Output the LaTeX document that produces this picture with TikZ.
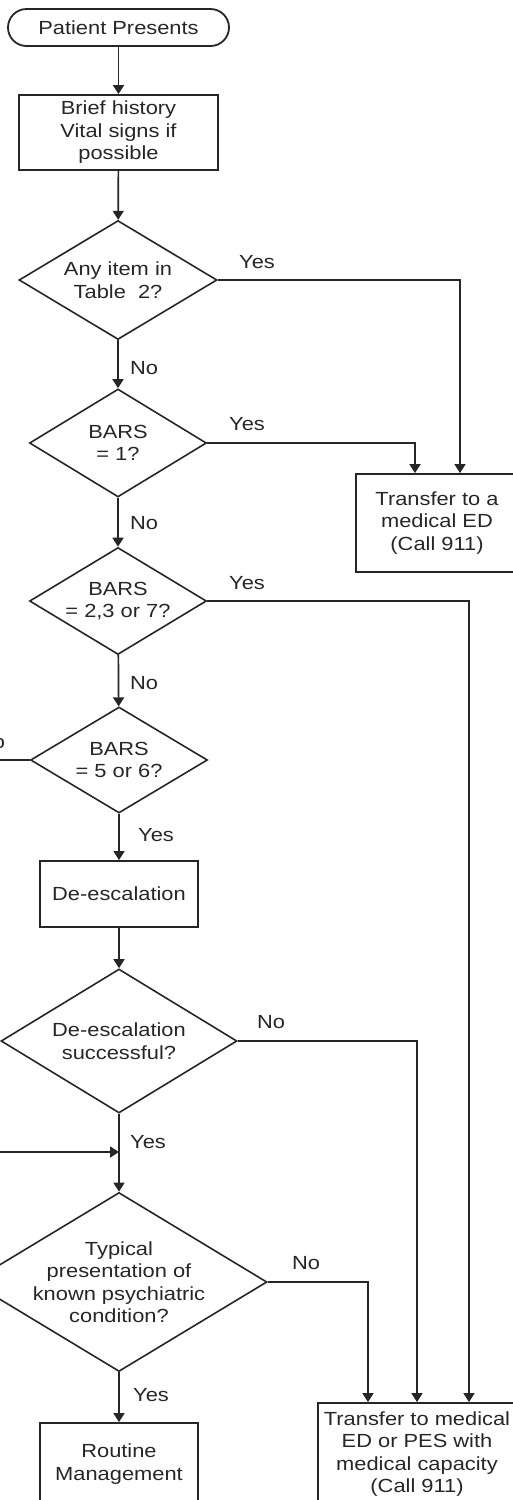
\documentclass[tikz,border=0pt]{standalone}
\usepackage{fontspec}
\setmainfont{Liberation Sans}[FakeStretch=1.15]
\usetikzlibrary{shapes.geometric,arrows.meta,calc}
\definecolor{ink}{gray}{0.15}
\begin{document}
\begin{tikzpicture}[x=1pt,y=-1pt,
  every node/.style={font=\fontsize{19}{22.5}\selectfont, text=ink},
  procbox/.style={draw=ink, line width=1.8pt, align=center, inner sep=0pt},
  terminal/.style={procbox, rounded corners=18.5pt},
  decision/.style={draw=ink, line width=1.6pt, diamond, inner sep=0pt},
  flow/.style={draw=ink, line width=1.7pt, -{Triangle[width=11pt,length=9pt]}},
  tag/.style={inner sep=0pt},
]
\useasboundingbox (0,0) rectangle (512,1500);

% process boxes
\node[terminal, minimum width=221, minimum height=37] (start) at (118.5,27.5) {Patient Presents};
\node[procbox, minimum width=199, minimum height=75] (hist) at (118.5,132.5) {Brief history\\Vital signs if\\possible};
\node[procbox, minimum width=158, minimum height=66] (deesc) at (119,894) {De-escalation};
\node[procbox, minimum width=158, minimum height=82] (routine) at (119,1464) {Routine\\Management};
\node[procbox, minimum width=162, minimum height=98] (xfer1) at (437,523) {Transfer to a\\medical ED\\(Call 911)};
\node[procbox, minimum width=198, minimum height=102] (xfer2) at (417,1454) {Transfer to medical\\ED or PES with\\medical capacity\\(Call 911)};

% decisions
\node[decision, minimum width=198, minimum height=119,
  label={[align=center]center:Any item in\\Table~~2?}] (d1) at (118,280) {};
\node[decision, minimum width=177, minimum height=108,
  label={[align=center]center:BARS\\= 1?}] (d2) at (118,443) {};
\node[decision, minimum width=177, minimum height=107,
  label={[align=center]center:BARS\\= 2,3 or 7?}] (d3) at (118,601) {};
\node[decision, minimum width=177, minimum height=106,
  label={[align=center]center:BARS\\= 5 or 6?}] (d4) at (119,760) {};
\node[decision, minimum width=236, minimum height=144,
  label={[align=center]center:De-escalation\\successful?}] (d5) at (119,1041) {};
\node[decision, minimum width=296, minimum height=179,
  label={[align=center]center:Typical\\presentation of\\known psychiatric\\condition?}] (d6) at (119,1282) {};

% main column
\coordinate (join) at (119,1152);
\coordinate (loopx) at (-22,0);
\draw[flow] (start) -- (hist);
\draw[flow] (hist) -- (d1);
\draw[flow] (d1) -- (d2);
\draw[flow] (d2) -- (d3);
\draw[flow] (d3) -- (d4);
\draw[flow] (d4) -- (deesc);
\draw[flow] (deesc) -- (d5);
\draw[flow] (d5) -- (d6);
\draw[flow] (d6) -- (routine);

% branches to the right
\draw[flow] (d1.east) -| ([xshift=23pt]xfer1.north);
\draw[flow] (d2.east) -| ([xshift=-22pt]xfer1.north);
\draw[flow] (d3.east) -| ([xshift=52pt]xfer2.north);
\draw[flow] (d5.east) -| (xfer2.north);
\draw[flow] (d6.east) -| ([xshift=-49pt]xfer2.north);

% loop on the left
\draw[flow] (d4.west) -- (d4.west -| loopx) |- (join);

% branch labels
\node[tag, anchor=west] (n1) at (130,368) {No};
\node[tag, anchor=west] (n2) at (130,523) {No};
\node[tag, anchor=west] (n3) at (130,683) {No};
\node[tag, anchor=west] (y4) at (138,835) {Yes};
\node[tag, anchor=west] (y5) at (130,1142) {Yes};
\node[tag, anchor=west] (y6) at (133,1395) {Yes};
\node[tag] (y1) at (257,262) {Yes};
\node[tag] (y2) at (247,424) {Yes};
\node[tag] (y3) at (247,583) {Yes};
\node[tag] (n5) at (271,1022) {No};
\node[tag] (n6) at (306,1263) {No};
\node[tag] (n4) at (-9,742) {No};
\end{tikzpicture}
\end{document}
